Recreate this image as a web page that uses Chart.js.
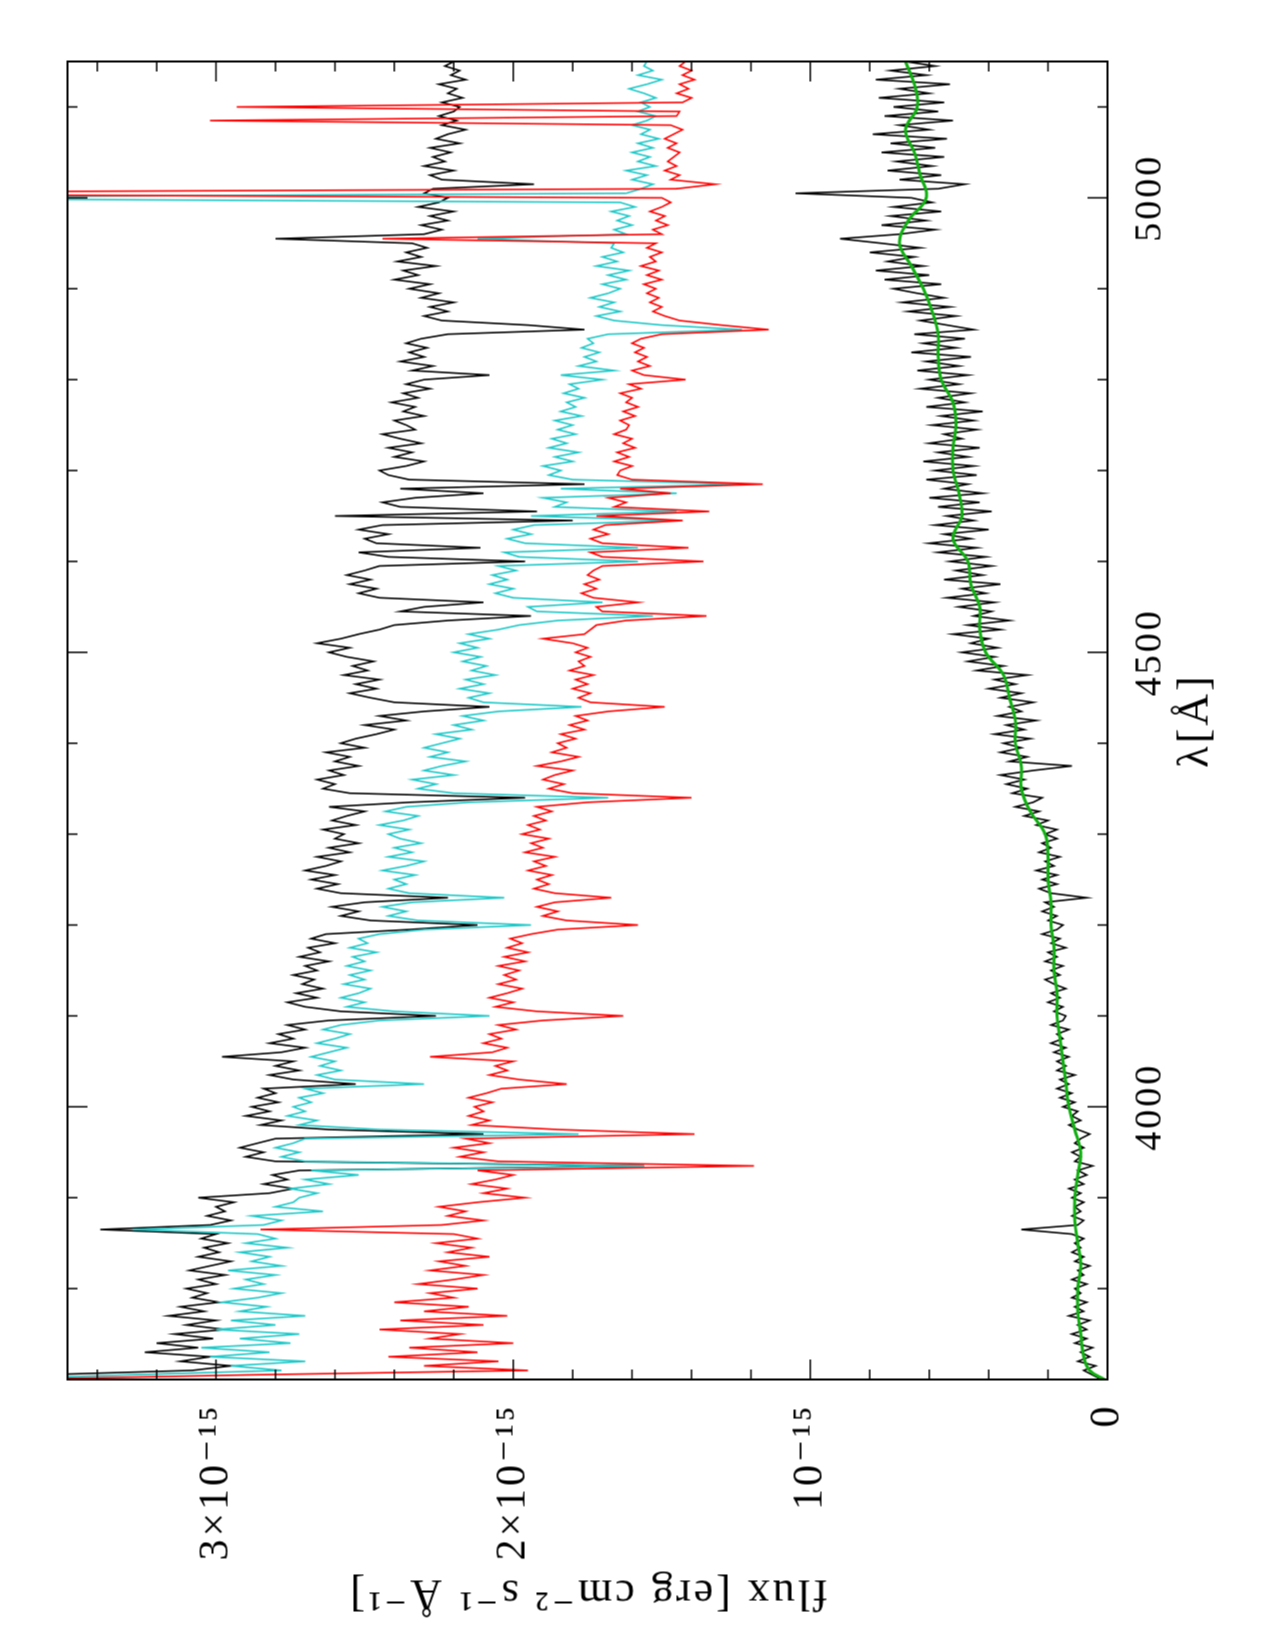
<!DOCTYPE html>
<html>
<head>
<meta charset="utf-8">
<script src="https://cdn.jsdelivr.net/npm/chart.js@4.4.0/dist/chart.umd.min.js"></script>
<style>
html, body { margin: 0; padding: 0; background: #fff; }
#page { position: relative; width: 1275px; height: 1650px; overflow: hidden; background: #fff; }
/* the plot is drawn in landscape and turned a quarter turn, like the original */
#rot { position: absolute; left: -187.5px; top: 187.5px; width: 1650px; height: 1275px; transform: rotate(-90deg); }
canvas { display: block; }
</style>
</head>
<body>
<div id="page"><div id="rot"><canvas id="spec" width="1650" height="1275"></canvas></div></div>
<script>
// wavelength grid of the four spectra (Angstrom)
const lamStart = 3700;
const lamStep = 5;

// flux in units of 1e-15 erg cm-2 s-1 A-1
const fluxTop = [
  3.90, 3.60, 3.08, 2.95, 3.12, 3.02, 3.24, 3.06, 3.20, 3.01, // 3700
  3.14, 2.97, 3.10, 3.00, 3.16, 3.04, 3.12, 2.99, 3.08, 3.03, // 3750
  3.10, 3.00, 3.06, 2.97, 3.09, 3.02, 2.95, 3.06, 2.99, 3.04, // 3800
  2.96, 3.05, 3.00, 3.39, 3.02, 2.95, 3.03, 2.97, 3.00, 2.94, // 3850
  3.06, 2.82, 2.74, 2.84, 2.76, 2.81, 2.72, 1.56, 2.80, 2.90, // 3900
  2.84, 2.92, 2.86, 2.80, 2.10, 2.62, 2.85, 2.78, 2.90, 2.82, // 3950
  2.88, 2.79, 2.86, 2.80, 2.84, 2.53, 2.74, 2.82, 2.72, 2.80, // 4000
  2.74, 2.98, 2.78, 2.70, 2.82, 2.74, 2.79, 2.70, 2.76, 2.62, // 4050
  2.26, 2.58, 2.70, 2.76, 2.66, 2.73, 2.64, 2.71, 2.67, 2.74, // 4100
  2.66, 2.70, 2.62, 2.72, 2.65, 2.69, 2.60, 2.68, 2.63, 2.35, // 4150
  2.12, 2.48, 2.58, 2.52, 2.61, 2.50, 2.22, 2.58, 2.66, 2.59, // 4200
  2.68, 2.60, 2.70, 2.63, 2.58, 2.66, 2.55, 2.62, 2.52, 2.60, // 4250
  2.57, 2.64, 2.53, 2.61, 2.56, 2.50, 2.62, 2.35, 1.96, 2.55, // 4300
  2.64, 2.60, 2.66, 2.57, 2.62, 2.52, 2.60, 2.55, 2.63, 2.50, // 4350
  2.58, 2.53, 2.46, 2.40, 2.50, 2.36, 2.45, 2.30, 2.08, 2.40, // 4400
  2.48, 2.55, 2.46, 2.53, 2.45, 2.57, 2.49, 2.54, 2.47, 2.56, // 4450
  2.62, 2.55, 2.66, 2.58, 2.52, 2.45, 2.40, 2.22, 1.94, 2.38, // 4500
  2.30, 2.10, 2.45, 2.52, 2.46, 2.55, 2.48, 2.56, 2.50, 2.45, // 4550
  1.96, 2.42, 2.52, 2.11, 2.46, 2.50, 2.42, 2.52, 2.44, 1.80, // 4600
  2.60, 1.92, 2.38, 2.44, 2.33, 2.10, 2.38, 1.76, 2.35, 2.42, // 4650
  2.45, 2.36, 2.30, 2.40, 2.34, 2.42, 2.31, 2.38, 2.44, 2.33, // 4700
  2.36, 2.40, 2.30, 2.37, 2.33, 2.41, 2.32, 2.37, 2.28, 2.36, // 4750
  2.30, 2.08, 2.34, 2.27, 2.38, 2.30, 2.35, 2.29, 2.36, 2.31, // 4800
  2.22, 1.76, 1.95, 2.24, 2.30, 2.22, 2.28, 2.20, 2.31, 2.25, // 4850
  2.35, 2.28, 2.40, 2.32, 2.37, 2.26, 2.39, 2.31, 2.36, 2.29, // 4900
  2.34, 2.80, 2.30, 2.24, 2.31, 2.22, 2.28, 2.20, 2.32, 2.25, // 4950
  2.22, 2.30, 2.27, 1.93, 2.24, 2.28, 2.20, 2.30, 2.23, 2.27, // 5000
  2.21, 2.28, 2.18, 2.26, 2.22, 2.16, 2.24, 2.19, 2.25, 2.20, // 5050
  2.18, 2.24, 2.17, 2.22, 2.19, 2.25, 2.16, 2.21, 2.18, 2.23, // 5100
  2.20
];

const fluxCyan = [
  3.80, 3.30, 2.78, 2.95, 2.70, 3.02, 2.82, 3.05, 2.75, 2.92,
  2.72, 3.00, 2.80, 2.95, 2.70, 2.92, 2.83, 2.98, 2.86, 2.78,
  2.94, 2.84, 2.90, 2.80, 2.96, 2.78, 2.88, 2.82, 2.92, 2.76,
  2.90, 2.80, 2.86, 3.28, 2.84, 2.78, 2.88, 2.64, 2.80, 2.74,
  2.72, 2.66, 2.75, 2.62, 2.70, 2.52, 2.68, 1.56, 2.70, 2.78,
  2.72, 2.80, 2.74, 2.70, 1.78, 2.45, 2.72, 2.66, 2.76, 2.70,
  2.74, 2.68, 2.72, 2.64, 2.70, 2.30, 2.60, 2.66, 2.58, 2.65,
  2.60, 2.68, 2.62, 2.56, 2.66, 2.60, 2.55, 2.64, 2.58, 2.45,
  2.08, 2.40, 2.56, 2.50, 2.58, 2.52, 2.48, 2.57, 2.50, 2.55,
  2.48, 2.56, 2.50, 2.54, 2.46, 2.55, 2.49, 2.52, 2.45, 2.30,
  1.94, 2.32, 2.42, 2.36, 2.44, 2.34, 2.03, 2.35, 2.42, 2.36,
  2.40, 2.33, 2.44, 2.36, 2.30, 2.42, 2.34, 2.40, 2.31, 2.38,
  2.42, 2.35, 2.45, 2.37, 2.32, 2.43, 2.36, 2.15, 1.68, 2.20,
  2.32, 2.26, 2.34, 2.20, 2.30, 2.24, 2.16, 2.28, 2.22, 2.30,
  2.24, 2.18, 2.26, 2.14, 2.20, 2.10, 2.17, 2.05, 1.77, 2.10,
  2.15, 2.08, 2.18, 2.10, 2.16, 2.06, 2.14, 2.09, 2.17, 2.11,
  2.20, 2.12, 2.18, 2.08, 2.15, 2.05, 1.98, 1.85, 1.53, 1.92,
  1.95, 1.70, 2.00, 2.06, 2.00, 2.08, 2.02, 2.07, 1.99, 2.05,
  1.58, 1.98, 2.03, 1.58, 1.96, 2.02, 1.94, 2.00, 1.93, 1.45,
  1.94, 1.45, 1.86, 1.82, 1.90, 1.45, 1.84, 1.23, 1.80, 1.88,
  1.84, 1.90, 1.80, 1.86, 1.78, 1.88, 1.82, 1.87, 1.79, 1.85,
  1.80, 1.86, 1.77, 1.84, 1.79, 1.82, 1.76, 1.83, 1.78, 1.81,
  1.70, 1.84, 1.66, 1.78, 1.72, 1.76, 1.71, 1.77, 1.73, 1.75,
  1.68, 1.23, 1.50, 1.66, 1.72, 1.64, 1.71, 1.66, 1.74, 1.68,
  1.64, 1.70, 1.62, 1.68, 1.61, 1.72, 1.65, 1.70, 1.63, 1.67,
  1.66, 2.12, 1.62, 1.66, 1.60, 1.65, 1.61, 1.67, 1.59, 1.64,
  4.50, 1.62, 1.57, 1.53, 1.60, 1.55, 1.62, 1.52, 1.58, 1.54,
  1.60, 1.53, 1.58, 1.51, 1.57, 1.54, 1.60, 1.55, 1.52, 1.58,
  1.54, 1.57, 1.52, 1.56, 1.61, 1.55, 1.50, 1.58, 1.53, 1.56,
  1.55
];

const fluxRed = [
  3.70, 2.90, 1.95, 2.30, 2.05, 2.42, 2.12, 2.35, 2.00, 2.28,
  2.18, 2.45, 2.10, 2.38, 2.02, 2.30, 2.15, 2.40, 2.20, 2.28,
  2.12, 2.32, 2.20, 2.10, 2.28, 2.16, 2.25, 2.08, 2.22, 2.14,
  2.26, 2.12, 2.20, 2.85, 2.24, 2.10, 2.22, 2.16, 2.25, 2.12,
  1.96, 2.10, 2.02, 2.14, 2.06, 2.00, 2.12, 1.19, 2.05, 2.18,
  2.10, 2.20, 2.08, 2.16, 1.39, 1.85, 2.14, 2.08, 2.15, 2.10,
  2.13, 2.07, 2.15, 2.09, 2.04, 1.82, 1.98, 2.08, 2.02, 2.06,
  2.00, 2.28, 2.07, 2.02, 2.10, 2.04, 2.08, 1.99, 2.05, 1.90,
  1.63, 1.92, 2.06, 2.00, 2.08, 2.02, 1.97, 2.05, 1.99, 2.03,
  1.98, 2.05, 1.96, 2.03, 1.95, 2.02, 1.97, 2.01, 1.94, 1.85,
  1.58, 1.82, 1.90, 1.85, 1.92, 1.86, 1.67, 1.86, 1.93, 1.88,
  1.92, 1.87, 1.95, 1.89, 1.93, 1.86, 1.96, 1.90, 1.94, 1.88,
  1.97, 1.91, 1.95, 1.89, 1.93, 1.87, 1.92, 1.75, 1.40, 1.80,
  1.88, 1.83, 1.90, 1.86, 1.80, 1.92, 1.84, 1.78, 1.87, 1.82,
  1.85, 1.79, 1.84, 1.76, 1.81, 1.75, 1.79, 1.68, 1.49, 1.74,
  1.78, 1.74, 1.80, 1.75, 1.79, 1.73, 1.81, 1.76, 1.78, 1.74,
  1.79, 1.75, 1.80, 1.90, 1.76, 1.74, 1.72, 1.62, 1.35, 1.70,
  1.72, 1.58, 1.73, 1.77, 1.72, 1.76, 1.71, 1.75, 1.73, 1.70,
  1.36, 1.70, 1.74, 1.41, 1.70, 1.74, 1.68, 1.73, 1.69, 1.43,
  1.72, 1.34, 1.66, 1.62, 1.68, 1.47, 1.64, 1.16, 1.60, 1.65,
  1.64, 1.60, 1.66, 1.61, 1.65, 1.59, 1.63, 1.60, 1.66, 1.62,
  1.61, 1.64, 1.59, 1.63, 1.58, 1.62, 1.60, 1.64, 1.57, 1.61,
  1.42, 1.56, 1.60, 1.54, 1.58, 1.55, 1.59, 1.56, 1.60, 1.57,
  1.50, 1.14, 1.30, 1.44, 1.49, 1.53, 1.50, 1.54, 1.51, 1.55,
  1.52, 1.56, 1.50, 1.55, 1.51, 1.57, 1.52, 1.54, 1.50, 1.55,
  1.52, 2.44, 1.50, 1.53, 1.48, 1.52, 1.49, 1.54, 1.50, 1.47,
  1.50, 5.00, 1.45, 1.32, 1.47, 1.44, 1.49, 1.45, 1.48, 1.46,
  1.44, 1.48, 1.45, 1.49, 1.46, 1.43, 1.47, 3.02, 1.45, 1.44,
  2.93, 1.43, 1.40, 1.45, 1.41, 1.44, 1.39, 1.43, 1.40, 1.44,
  1.42
];

const fluxLow = [
  0.02, 0.05, 0.08, 0.04, 0.10, 0.06, 0.09, 0.05, 0.11, 0.07,
  0.12, 0.07, 0.10, 0.06, 0.13, 0.08, 0.11, 0.07, 0.12, 0.09,
  0.11, 0.07, 0.12, 0.08, 0.10, 0.06, 0.11, 0.08, 0.12, 0.09,
  0.11, 0.08, 0.12, 0.29, 0.10, 0.08, 0.12, 0.09, 0.11, 0.08,
  0.12, 0.09, 0.13, 0.08, 0.11, 0.07, 0.10, 0.05, 0.11, 0.09,
  0.12, 0.08, 0.11, 0.09, 0.06, 0.10, 0.13, 0.09, 0.12, 0.10,
  0.15, 0.11, 0.16, 0.12, 0.17, 0.13, 0.16, 0.11, 0.17, 0.14,
  0.17, 0.13, 0.18, 0.14, 0.19, 0.15, 0.17, 0.13, 0.19, 0.15,
  0.14, 0.18, 0.15, 0.20, 0.16, 0.19, 0.14, 0.18, 0.21, 0.16,
  0.19, 0.15, 0.21, 0.17, 0.20, 0.14, 0.19, 0.16, 0.22, 0.17,
  0.15, 0.20, 0.17, 0.22, 0.18, 0.21, 0.07, 0.19, 0.23, 0.17,
  0.22, 0.17, 0.24, 0.18, 0.21, 0.16, 0.23, 0.19, 0.22, 0.17,
  0.21, 0.17, 0.24, 0.20, 0.28, 0.23, 0.31, 0.25, 0.22, 0.32,
  0.27, 0.34, 0.28, 0.36, 0.25, 0.12, 0.33, 0.27, 0.36, 0.29,
  0.35, 0.26, 0.38, 0.28, 0.34, 0.24, 0.37, 0.29, 0.33, 0.25,
  0.36, 0.29, 0.40, 0.31, 0.38, 0.27, 0.44, 0.35, 0.47, 0.38,
  0.49, 0.37, 0.46, 0.40, 0.52, 0.36, 0.47, 0.33, 0.45, 0.39,
  0.50, 0.38, 0.54, 0.41, 0.49, 0.36, 0.55, 0.42, 0.51, 0.39,
  0.53, 0.41, 0.57, 0.44, 0.60, 0.46, 0.55, 0.40, 0.58, 0.45,
  0.54, 0.39, 0.57, 0.43, 0.60, 0.42, 0.55, 0.47, 0.61, 0.44,
  0.58, 0.45, 0.62, 0.47, 0.57, 0.43, 0.60, 0.49, 0.55, 0.44,
  0.59, 0.45, 0.56, 0.42, 0.61, 0.48, 0.57, 0.46, 0.63, 0.50,
  0.60, 0.47, 0.64, 0.50, 0.61, 0.46, 0.66, 0.51, 0.62, 0.48,
  0.65, 0.45, 0.54, 0.63, 0.51, 0.67, 0.53, 0.69, 0.55, 0.64,
  0.72, 0.56, 0.75, 0.60, 0.78, 0.62, 0.74, 0.65, 0.80, 0.63,
  0.76, 0.90, 0.70, 0.58, 0.76, 0.61, 0.73, 0.56, 0.72, 0.59,
  0.66, 1.05, 0.57, 0.48, 0.70, 0.56, 0.74, 0.59, 0.71, 0.55,
  0.76, 0.58, 0.73, 0.54, 0.79, 0.60, 0.70, 0.52, 0.75, 0.57,
  0.72, 0.55, 0.77, 0.60, 0.70, 0.53, 0.78, 0.61, 0.73, 0.58,
  0.68
];

// smooth fit through the lower spectrum
const greenLam = [3700, 3710, 3725, 3750, 3775, 3800, 3825, 3850, 3875, 3900,
  3925, 3950, 3975, 4000, 4025, 4050, 4075, 4100, 4125, 4150,
  4175, 4200, 4225, 4250, 4275, 4300, 4325, 4350, 4375, 4400,
  4425, 4450, 4475, 4500, 4525, 4550, 4575, 4600, 4625, 4650,
  4675, 4700, 4725, 4750, 4775, 4800, 4825, 4850, 4875, 4900,
  4925, 4950, 4975, 5000, 5025, 5050, 5075, 5100, 5125, 5150];
const greenFlux = [0.01, 0.06, 0.08, 0.09, 0.10, 0.10, 0.09, 0.10, 0.11, 0.11,
  0.10, 0.09, 0.11, 0.13, 0.14, 0.15, 0.16, 0.17, 0.17, 0.18,
  0.18, 0.19, 0.19, 0.20, 0.20, 0.21, 0.26, 0.29, 0.29, 0.31,
  0.31, 0.33, 0.35, 0.41, 0.43, 0.43, 0.46, 0.47, 0.52, 0.49,
  0.50, 0.52, 0.52, 0.51, 0.52, 0.56, 0.57, 0.57, 0.59, 0.62,
  0.66, 0.70, 0.67, 0.61, 0.63, 0.65, 0.68, 0.64, 0.65, 0.68];

const lamMajor = [4000, 4500, 5000];
const fluxMajor = [0, 1, 2, 3];
const fluxTickLabels = ["0", "10\u207B\u00B9\u2075", "2\u00D710\u207B\u00B9\u2075", "3\u00D710\u207B\u00B9\u2075"];

const lam = fluxTop.map((_, i) => lamStart + i * lamStep);
const pts = arr => arr.map((v, i) => ({ x: lam[i], y: v }));

const FONT = "'Liberation Serif', 'DejaVu Serif', serif";

// the old plot font is spaced wider than a normal serif
const wideText = {
  id: "wideText",
  beforeDraw(chart) { chart.ctx.letterSpacing = "3px"; }
};

// PGPLOT-style frame with inward ticks on all four sides
const frameTicks = {
  id: "frameTicks",
  afterDatasetsDraw(chart) {
    const { ctx, chartArea: a, scales } = chart;
    const x = scales.x, y = scales.y;
    ctx.save();
    ctx.strokeStyle = "#000";
    ctx.lineWidth = 1.5;
    ctx.beginPath();
    for (let w = 3700; w <= 5150; w += 100) {
      const px = x.getPixelForValue(w);
      const len = w % 500 === 0 ? 20 : 10;
      ctx.moveTo(px, a.top); ctx.lineTo(px, a.top + len);
      ctx.moveTo(px, a.bottom); ctx.lineTo(px, a.bottom - len);
    }
    for (let k = 0; k <= 17; k++) {
      const py = y.getPixelForValue(k * 0.2);
      const len = k % 5 === 0 ? 20 : 10;
      ctx.moveTo(a.left, py); ctx.lineTo(a.left + len, py);
      ctx.moveTo(a.right, py); ctx.lineTo(a.right - len, py);
    }
    ctx.stroke();
    ctx.lineWidth = 2;
    ctx.strokeRect(a.left, a.top, a.right - a.left, a.bottom - a.top);
    ctx.restore();
  }
};

const lineSet = (label, arr, color, width) => ({
  label: label,
  data: arr,
  borderColor: color,
  borderWidth: width,
  pointRadius: 0,
  tension: 0,
  fill: false
});

new Chart(document.getElementById("spec"), {
  type: "line",
  data: {
    datasets: [
      Object.assign(lineSet("fit", greenLam.map((w, i) => ({ x: w, y: greenFlux[i] })), "#10b010", 3), { tension: 0.4 }),
      lineSet("low", pts(fluxLow), "#000000", 1.6),
      lineSet("red", pts(fluxRed), "#ff0000", 1.6),
      lineSet("cyan", pts(fluxCyan), "#1ec8c8", 1.6),
      lineSet("top", pts(fluxTop), "#000000", 1.6)
    ]
  },
  options: {
    responsive: false,
    animation: false,
    devicePixelRatio: 1,
    layout: { padding: { top: 67, right: 61, bottom: 0, left: 0 } },
    plugins: { legend: { display: false }, tooltip: { enabled: false } },
    scales: {
      x: {
        type: "linear",
        min: 3700,
        max: 5150,
        grid: { display: false, drawTicks: false },
        border: { display: false },
        afterBuildTicks: s => { s.ticks = lamMajor.map(v => ({ value: v })); },
        afterFit: s => { s.height = 168; },
        ticks: {
          color: "#000",
          padding: 20,
          maxRotation: 0,
          font: { family: FONT, size: 38 },
          callback: v => String(v)
        },
        title: {
          display: true,
          text: "\u03BB[\u00C5]",
          color: "#000",
          font: { family: FONT, size: 44 },
          padding: { top: 0, bottom: 53 }
        }
      },
      y: {
        type: "linear",
        min: 0,
        max: 3.5,
        grid: { display: false, drawTicks: false },
        border: { display: false },
        afterBuildTicks: s => { s.ticks = fluxMajor.map(v => ({ value: v })); },
        afterFit: s => { s.width = 271; },
        ticks: {
          color: "#000",
          padding: 24,
          font: { family: FONT, size: 42 },
          callback: v => fluxTickLabels[fluxMajor.indexOf(v)]
        },
        title: {
          display: true,
          text: "flux [erg cm\u207B\u00B2 s\u207B\u00B9 \u00C5\u207B\u00B9]",
          color: "#000",
          font: { family: FONT, size: 44 },
          padding: { top: 32, bottom: 0 }
        }
      }
    }
  },
  plugins: [wideText, frameTicks]
});
</script>
</body>
</html>
